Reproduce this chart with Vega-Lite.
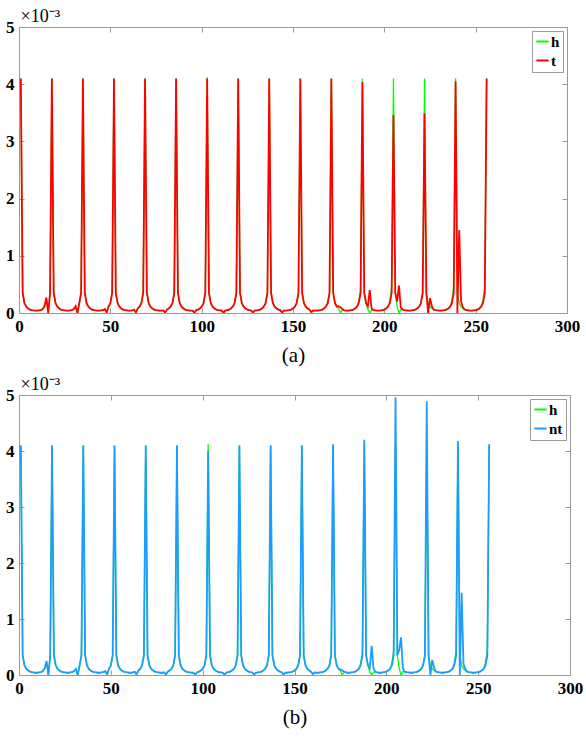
{
  "$schema": "https://vega.github.io/schema/vega-lite/v6.json",
  "background": "white",
  "padding": {"left": 5, "top": 6, "right": 4, "bottom": 4},
  "datasets": {
    "signal": [
      {"x": 1, "h": 4.1, "t": 4.1, "nt": 4.1},
      {"x": 2, "h": 0.35, "t": 0.35, "nt": 0.35},
      {"x": 3, "h": 0.17, "t": 0.17, "nt": 0.17},
      {"x": 4, "h": 0.11, "t": 0.11, "nt": 0.11},
      {"x": 5, "h": 0.08, "t": 0.08, "nt": 0.08},
      {"x": 6, "h": 0.06, "t": 0.06, "nt": 0.06},
      {"x": 7, "h": 0.05, "t": 0.05, "nt": 0.05},
      {"x": 8, "h": 0.045, "t": 0.045, "nt": 0.045},
      {"x": 9, "h": 0.04, "t": 0.04, "nt": 0.04},
      {"x": 10, "h": 0.04, "t": 0.04, "nt": 0.04},
      {"x": 11, "h": 0.045, "t": 0.045, "nt": 0.045},
      {"x": 12, "h": 0.05, "t": 0.05, "nt": 0.05},
      {"x": 13, "h": 0.07, "t": 0.07, "nt": 0.07},
      {"x": 14, "h": 0.12, "t": 0.12, "nt": 0.12},
      {"x": 15, "h": 0.24, "t": 0.27, "nt": 0.25},
      {"x": 16, "h": 0.0, "t": 0.0, "nt": 0.0},
      {"x": 17, "h": 0.35, "t": 0.35, "nt": 0.35},
      {"x": 18, "h": 4.1, "t": 4.1, "nt": 4.1},
      {"x": 19, "h": 0.35, "t": 0.35, "nt": 0.35},
      {"x": 20, "h": 0.17, "t": 0.17, "nt": 0.17},
      {"x": 21, "h": 0.11, "t": 0.11, "nt": 0.11},
      {"x": 22, "h": 0.08, "t": 0.08, "nt": 0.08},
      {"x": 23, "h": 0.06, "t": 0.06, "nt": 0.06},
      {"x": 24, "h": 0.05, "t": 0.05, "nt": 0.05},
      {"x": 25, "h": 0.045, "t": 0.045, "nt": 0.045},
      {"x": 26, "h": 0.04, "t": 0.04, "nt": 0.04},
      {"x": 27, "h": 0.04, "t": 0.04, "nt": 0.04},
      {"x": 28, "h": 0.045, "t": 0.045, "nt": 0.045},
      {"x": 29, "h": 0.05, "t": 0.05, "nt": 0.05},
      {"x": 30, "h": 0.07, "t": 0.07, "nt": 0.07},
      {"x": 31, "h": 0.1, "t": 0.12, "nt": 0.11},
      {"x": 32, "h": 0.0, "t": 0.0, "nt": 0.0},
      {"x": 33, "h": 0.17, "t": 0.17, "nt": 0.17},
      {"x": 34, "h": 0.35, "t": 0.35, "nt": 0.35},
      {"x": 35, "h": 4.1, "t": 4.1, "nt": 4.1},
      {"x": 36, "h": 0.35, "t": 0.35, "nt": 0.35},
      {"x": 37, "h": 0.17, "t": 0.17, "nt": 0.17},
      {"x": 38, "h": 0.11, "t": 0.11, "nt": 0.11},
      {"x": 39, "h": 0.08, "t": 0.08, "nt": 0.08},
      {"x": 40, "h": 0.06, "t": 0.06, "nt": 0.06},
      {"x": 41, "h": 0.05, "t": 0.05, "nt": 0.05},
      {"x": 42, "h": 0.045, "t": 0.045, "nt": 0.045},
      {"x": 43, "h": 0.04, "t": 0.04, "nt": 0.04},
      {"x": 44, "h": 0.04, "t": 0.04, "nt": 0.04},
      {"x": 45, "h": 0.045, "t": 0.045, "nt": 0.045},
      {"x": 46, "h": 0.05, "t": 0.05, "nt": 0.05},
      {"x": 47, "h": 0.07, "t": 0.07, "nt": 0.07},
      {"x": 48, "h": 0.01, "t": 0.01, "nt": 0.01},
      {"x": 49, "h": 0.11, "t": 0.11, "nt": 0.11},
      {"x": 50, "h": 0.17, "t": 0.17, "nt": 0.17},
      {"x": 51, "h": 0.35, "t": 0.35, "nt": 0.35},
      {"x": 52, "h": 4.1, "t": 4.1, "nt": 4.1},
      {"x": 53, "h": 0.35, "t": 0.35, "nt": 0.35},
      {"x": 54, "h": 0.17, "t": 0.17, "nt": 0.17},
      {"x": 55, "h": 0.11, "t": 0.11, "nt": 0.11},
      {"x": 56, "h": 0.08, "t": 0.08, "nt": 0.08},
      {"x": 57, "h": 0.06, "t": 0.06, "nt": 0.06},
      {"x": 58, "h": 0.05, "t": 0.05, "nt": 0.05},
      {"x": 59, "h": 0.045, "t": 0.045, "nt": 0.045},
      {"x": 60, "h": 0.04, "t": 0.04, "nt": 0.04},
      {"x": 61, "h": 0.04, "t": 0.04, "nt": 0.04},
      {"x": 62, "h": 0.045, "t": 0.045, "nt": 0.045},
      {"x": 63, "h": 0.055, "t": 0.055, "nt": 0.055},
      {"x": 64, "h": 0.01, "t": 0.01, "nt": 0.01},
      {"x": 65, "h": 0.08, "t": 0.08, "nt": 0.08},
      {"x": 66, "h": 0.11, "t": 0.11, "nt": 0.11},
      {"x": 67, "h": 0.17, "t": 0.17, "nt": 0.17},
      {"x": 68, "h": 0.35, "t": 0.35, "nt": 0.35},
      {"x": 69, "h": 4.1, "t": 4.1, "nt": 4.1},
      {"x": 70, "h": 0.35, "t": 0.35, "nt": 0.35},
      {"x": 71, "h": 0.17, "t": 0.17, "nt": 0.17},
      {"x": 72, "h": 0.11, "t": 0.11, "nt": 0.11},
      {"x": 73, "h": 0.08, "t": 0.08, "nt": 0.08},
      {"x": 74, "h": 0.06, "t": 0.06, "nt": 0.06},
      {"x": 75, "h": 0.05, "t": 0.05, "nt": 0.05},
      {"x": 76, "h": 0.045, "t": 0.045, "nt": 0.045},
      {"x": 77, "h": 0.04, "t": 0.04, "nt": 0.04},
      {"x": 78, "h": 0.04, "t": 0.04, "nt": 0.04},
      {"x": 79, "h": 0.045, "t": 0.045, "nt": 0.045},
      {"x": 80, "h": 0.01, "t": 0.01, "nt": 0.01},
      {"x": 81, "h": 0.06, "t": 0.06, "nt": 0.06},
      {"x": 82, "h": 0.08, "t": 0.08, "nt": 0.08},
      {"x": 83, "h": 0.11, "t": 0.11, "nt": 0.11},
      {"x": 84, "h": 0.17, "t": 0.17, "nt": 0.17},
      {"x": 85, "h": 0.35, "t": 0.35, "nt": 0.35},
      {"x": 86, "h": 4.1, "t": 4.1, "nt": 4.1},
      {"x": 87, "h": 0.35, "t": 0.35, "nt": 0.35},
      {"x": 88, "h": 0.17, "t": 0.17, "nt": 0.17},
      {"x": 89, "h": 0.11, "t": 0.11, "nt": 0.11},
      {"x": 90, "h": 0.08, "t": 0.08, "nt": 0.08},
      {"x": 91, "h": 0.06, "t": 0.06, "nt": 0.06},
      {"x": 92, "h": 0.05, "t": 0.05, "nt": 0.05},
      {"x": 93, "h": 0.045, "t": 0.045, "nt": 0.045},
      {"x": 94, "h": 0.04, "t": 0.04, "nt": 0.04},
      {"x": 95, "h": 0.04, "t": 0.04, "nt": 0.04},
      {"x": 96, "h": 0.005, "t": 0.005, "nt": 0.005},
      {"x": 97, "h": 0.05, "t": 0.05, "nt": 0.05},
      {"x": 98, "h": 0.06, "t": 0.06, "nt": 0.06},
      {"x": 99, "h": 0.08, "t": 0.08, "nt": 0.08},
      {"x": 100, "h": 0.11, "t": 0.11, "nt": 0.11},
      {"x": 101, "h": 0.17, "t": 0.17, "nt": 0.17},
      {"x": 102, "h": 0.35, "t": 0.35, "nt": 0.35},
      {"x": 103, "h": 4.12, "t": 4.1, "nt": 4.0},
      {"x": 104, "h": 0.35, "t": 0.35, "nt": 0.35},
      {"x": 105, "h": 0.17, "t": 0.17, "nt": 0.17},
      {"x": 106, "h": 0.11, "t": 0.11, "nt": 0.11},
      {"x": 107, "h": 0.08, "t": 0.08, "nt": 0.08},
      {"x": 108, "h": 0.06, "t": 0.06, "nt": 0.06},
      {"x": 109, "h": 0.05, "t": 0.05, "nt": 0.05},
      {"x": 110, "h": 0.045, "t": 0.045, "nt": 0.045},
      {"x": 111, "h": 0.04, "t": 0.04, "nt": 0.04},
      {"x": 112, "h": 0.005, "t": 0.005, "nt": 0.005},
      {"x": 113, "h": 0.045, "t": 0.045, "nt": 0.045},
      {"x": 114, "h": 0.05, "t": 0.05, "nt": 0.05},
      {"x": 115, "h": 0.06, "t": 0.06, "nt": 0.06},
      {"x": 116, "h": 0.08, "t": 0.08, "nt": 0.08},
      {"x": 117, "h": 0.11, "t": 0.11, "nt": 0.11},
      {"x": 118, "h": 0.17, "t": 0.17, "nt": 0.17},
      {"x": 119, "h": 0.35, "t": 0.35, "nt": 0.35},
      {"x": 120, "h": 4.1, "t": 4.1, "nt": 4.1},
      {"x": 121, "h": 0.35, "t": 0.35, "nt": 0.35},
      {"x": 122, "h": 0.17, "t": 0.17, "nt": 0.17},
      {"x": 123, "h": 0.11, "t": 0.11, "nt": 0.11},
      {"x": 124, "h": 0.08, "t": 0.08, "nt": 0.08},
      {"x": 125, "h": 0.06, "t": 0.06, "nt": 0.06},
      {"x": 126, "h": 0.05, "t": 0.05, "nt": 0.05},
      {"x": 127, "h": 0.045, "t": 0.045, "nt": 0.045},
      {"x": 128, "h": 0.01, "t": 0.01, "nt": 0.01},
      {"x": 129, "h": 0.04, "t": 0.04, "nt": 0.04},
      {"x": 130, "h": 0.045, "t": 0.045, "nt": 0.045},
      {"x": 131, "h": 0.05, "t": 0.05, "nt": 0.05},
      {"x": 132, "h": 0.06, "t": 0.06, "nt": 0.06},
      {"x": 133, "h": 0.08, "t": 0.08, "nt": 0.08},
      {"x": 134, "h": 0.11, "t": 0.11, "nt": 0.11},
      {"x": 135, "h": 0.17, "t": 0.17, "nt": 0.17},
      {"x": 136, "h": 0.35, "t": 0.35, "nt": 0.35},
      {"x": 137, "h": 4.1, "t": 4.1, "nt": 4.1},
      {"x": 138, "h": 0.35, "t": 0.35, "nt": 0.35},
      {"x": 139, "h": 0.17, "t": 0.17, "nt": 0.17},
      {"x": 140, "h": 0.11, "t": 0.11, "nt": 0.11},
      {"x": 141, "h": 0.08, "t": 0.08, "nt": 0.08},
      {"x": 142, "h": 0.06, "t": 0.06, "nt": 0.06},
      {"x": 143, "h": 0.05, "t": 0.05, "nt": 0.05},
      {"x": 144, "h": 0.01, "t": 0.01, "nt": 0.01},
      {"x": 145, "h": 0.04, "t": 0.04, "nt": 0.04},
      {"x": 146, "h": 0.04, "t": 0.04, "nt": 0.04},
      {"x": 147, "h": 0.045, "t": 0.045, "nt": 0.045},
      {"x": 148, "h": 0.05, "t": 0.05, "nt": 0.05},
      {"x": 149, "h": 0.06, "t": 0.06, "nt": 0.06},
      {"x": 150, "h": 0.08, "t": 0.08, "nt": 0.08},
      {"x": 151, "h": 0.11, "t": 0.11, "nt": 0.11},
      {"x": 152, "h": 0.17, "t": 0.17, "nt": 0.17},
      {"x": 153, "h": 0.35, "t": 0.35, "nt": 0.35},
      {"x": 154, "h": 4.1, "t": 4.1, "nt": 4.1},
      {"x": 155, "h": 0.35, "t": 0.35, "nt": 0.35},
      {"x": 156, "h": 0.17, "t": 0.17, "nt": 0.17},
      {"x": 157, "h": 0.11, "t": 0.11, "nt": 0.11},
      {"x": 158, "h": 0.08, "t": 0.08, "nt": 0.08},
      {"x": 159, "h": 0.06, "t": 0.06, "nt": 0.06},
      {"x": 160, "h": 0.015, "t": 0.015, "nt": 0.015},
      {"x": 161, "h": 0.045, "t": 0.045, "nt": 0.045},
      {"x": 162, "h": 0.04, "t": 0.04, "nt": 0.04},
      {"x": 163, "h": 0.04, "t": 0.04, "nt": 0.04},
      {"x": 164, "h": 0.045, "t": 0.045, "nt": 0.045},
      {"x": 165, "h": 0.05, "t": 0.05, "nt": 0.05},
      {"x": 166, "h": 0.06, "t": 0.06, "nt": 0.06},
      {"x": 167, "h": 0.08, "t": 0.08, "nt": 0.08},
      {"x": 168, "h": 0.11, "t": 0.11, "nt": 0.11},
      {"x": 169, "h": 0.17, "t": 0.17, "nt": 0.17},
      {"x": 170, "h": 0.35, "t": 0.35, "nt": 0.35},
      {"x": 171, "h": 4.1, "t": 4.1, "nt": 4.12},
      {"x": 172, "h": 0.35, "t": 0.35, "nt": 0.35},
      {"x": 173, "h": 0.17, "t": 0.17, "nt": 0.17},
      {"x": 174, "h": 0.11, "t": 0.11, "nt": 0.11},
      {"x": 175, "h": 0.08, "t": 0.12, "nt": 0.1},
      {"x": 176, "h": 0.0, "t": 0.1, "nt": 0.08},
      {"x": 177, "h": 0.05, "t": 0.07, "nt": 0.06},
      {"x": 178, "h": 0.045, "t": 0.045, "nt": 0.045},
      {"x": 179, "h": 0.04, "t": 0.04, "nt": 0.04},
      {"x": 180, "h": 0.04, "t": 0.04, "nt": 0.04},
      {"x": 181, "h": 0.045, "t": 0.045, "nt": 0.045},
      {"x": 182, "h": 0.05, "t": 0.05, "nt": 0.05},
      {"x": 183, "h": 0.06, "t": 0.06, "nt": 0.06},
      {"x": 184, "h": 0.08, "t": 0.08, "nt": 0.08},
      {"x": 185, "h": 0.11, "t": 0.11, "nt": 0.11},
      {"x": 186, "h": 0.2, "t": 0.17, "nt": 0.17},
      {"x": 187, "h": 0.4, "t": 0.35, "nt": 0.35},
      {"x": 188, "h": 4.1, "t": 4.04, "nt": 4.2},
      {"x": 189, "h": 0.35, "t": 0.35, "nt": 0.35},
      {"x": 190, "h": 0.17, "t": 0.17, "nt": 0.17},
      {"x": 191, "h": 0.06, "t": 0.12, "nt": 0.12},
      {"x": 192, "h": 0.0, "t": 0.4, "nt": 0.52},
      {"x": 193, "h": 0.05, "t": 0.08, "nt": 0.12},
      {"x": 194, "h": 0.05, "t": 0.05, "nt": 0.06},
      {"x": 195, "h": 0.045, "t": 0.045, "nt": 0.045},
      {"x": 196, "h": 0.04, "t": 0.04, "nt": 0.04},
      {"x": 197, "h": 0.04, "t": 0.04, "nt": 0.04},
      {"x": 198, "h": 0.045, "t": 0.045, "nt": 0.045},
      {"x": 199, "h": 0.05, "t": 0.05, "nt": 0.05},
      {"x": 200, "h": 0.06, "t": 0.06, "nt": 0.06},
      {"x": 201, "h": 0.08, "t": 0.08, "nt": 0.08},
      {"x": 202, "h": 0.11, "t": 0.11, "nt": 0.11},
      {"x": 203, "h": 0.2, "t": 0.17, "nt": 0.17},
      {"x": 204, "h": 0.45, "t": 0.35, "nt": 0.35},
      {"x": 205, "h": 4.1, "t": 3.46, "nt": 4.96},
      {"x": 206, "h": 0.35, "t": 0.35, "nt": 0.35},
      {"x": 207, "h": 0.12, "t": 0.2, "nt": 0.45},
      {"x": 208, "h": 0.0, "t": 0.48, "nt": 0.67},
      {"x": 209, "h": 0.06, "t": 0.1, "nt": 0.12},
      {"x": 210, "h": 0.06, "t": 0.06, "nt": 0.06},
      {"x": 211, "h": 0.05, "t": 0.05, "nt": 0.05},
      {"x": 212, "h": 0.045, "t": 0.045, "nt": 0.045},
      {"x": 213, "h": 0.04, "t": 0.04, "nt": 0.04},
      {"x": 214, "h": 0.04, "t": 0.04, "nt": 0.04},
      {"x": 215, "h": 0.045, "t": 0.045, "nt": 0.045},
      {"x": 216, "h": 0.05, "t": 0.05, "nt": 0.05},
      {"x": 217, "h": 0.06, "t": 0.06, "nt": 0.06},
      {"x": 218, "h": 0.08, "t": 0.08, "nt": 0.08},
      {"x": 219, "h": 0.11, "t": 0.11, "nt": 0.11},
      {"x": 220, "h": 0.17, "t": 0.17, "nt": 0.17},
      {"x": 221, "h": 0.35, "t": 0.35, "nt": 0.35},
      {"x": 222, "h": 4.1, "t": 3.49, "nt": 4.89},
      {"x": 223, "h": 0.35, "t": 0.35, "nt": 0.35},
      {"x": 224, "h": 0.17, "t": 0.0, "nt": 0.0},
      {"x": 225, "h": 0.11, "t": 0.26, "nt": 0.27},
      {"x": 226, "h": 0.08, "t": 0.12, "nt": 0.13},
      {"x": 227, "h": 0.06, "t": 0.06, "nt": 0.06},
      {"x": 228, "h": 0.05, "t": 0.05, "nt": 0.05},
      {"x": 229, "h": 0.045, "t": 0.045, "nt": 0.045},
      {"x": 230, "h": 0.04, "t": 0.04, "nt": 0.04},
      {"x": 231, "h": 0.04, "t": 0.04, "nt": 0.04},
      {"x": 232, "h": 0.045, "t": 0.045, "nt": 0.045},
      {"x": 233, "h": 0.05, "t": 0.05, "nt": 0.05},
      {"x": 234, "h": 0.06, "t": 0.06, "nt": 0.06},
      {"x": 235, "h": 0.08, "t": 0.08, "nt": 0.08},
      {"x": 236, "h": 0.11, "t": 0.11, "nt": 0.11},
      {"x": 237, "h": 0.22, "t": 0.17, "nt": 0.17},
      {"x": 238, "h": 0.45, "t": 0.35, "nt": 0.35},
      {"x": 239, "h": 4.1, "t": 4.05, "nt": 4.18},
      {"x": 240, "h": 0.35, "t": 0.0, "nt": 0.0},
      {"x": 241, "h": 0.17, "t": 1.45, "nt": 1.47},
      {"x": 242, "h": 0.11, "t": 0.2, "nt": 0.2},
      {"x": 243, "h": 0.08, "t": 0.1, "nt": 0.1},
      {"x": 244, "h": 0.06, "t": 0.06, "nt": 0.06},
      {"x": 245, "h": 0.05, "t": 0.05, "nt": 0.05},
      {"x": 246, "h": 0.045, "t": 0.045, "nt": 0.045},
      {"x": 247, "h": 0.04, "t": 0.04, "nt": 0.04},
      {"x": 248, "h": 0.04, "t": 0.04, "nt": 0.04},
      {"x": 249, "h": 0.045, "t": 0.045, "nt": 0.045},
      {"x": 250, "h": 0.05, "t": 0.05, "nt": 0.05},
      {"x": 251, "h": 0.06, "t": 0.06, "nt": 0.06},
      {"x": 252, "h": 0.08, "t": 0.08, "nt": 0.08},
      {"x": 253, "h": 0.11, "t": 0.11, "nt": 0.11},
      {"x": 254, "h": 0.22, "t": 0.17, "nt": 0.17},
      {"x": 255, "h": 0.45, "t": 0.35, "nt": 0.35},
      {"x": 256, "h": 4.1, "t": 4.1, "nt": 4.12}
    ]
  },
  "spacing": 8,
  "vconcat": [
    {
      "data": {"name": "signal"},
      "width": 548,
      "height": 286,
      "layer": [
        {
          "mark": {"type": "line", "clip": true, "strokeWidth": 1.3},
          "encoding": {
            "x": {
              "field": "x", "type": "quantitative",
              "scale": {"domain": [0, 300], "nice": false},
              "axis": {"values": [0, 50, 100, 150, 200, 250, 300], "title": "(a)", "titleFontSize": 21, "titlePadding": 10}
            },
            "y": {
              "field": "h", "type": "quantitative",
              "scale": {"domain": [0, 5], "nice": false},
              "axis": {"values": [0, 1, 2, 3, 4, 5], "title": "×10⁻³", "titleAngle": 0, "titleAlign": "left", "titleBaseline": "alphabetic", "titleX": 1, "titleY": -6, "titleFontSize": 18}
            },
            "color": {
              "datum": "h", "type": "nominal",
              "scale": {"domain": ["h", "t"], "range": ["#00ff00", "#ff0000"]},
              "legend": {"orient": "top-right"}
            }
          }
        },
        {
          "mark": {"type": "line", "clip": true, "strokeWidth": 1.8},
          "encoding": {
            "x": {
              "field": "x", "type": "quantitative",
              "axis": {"orient": "top", "values": [0, 50, 100, 150, 200, 250, 300], "labels": false, "title": null}
            },
            "y": {
              "field": "t", "type": "quantitative",
              "axis": {"orient": "right", "values": [0, 1, 2, 3, 4, 5], "labels": false, "title": null}
            },
            "color": {"datum": "t", "type": "nominal"}
          }
        }
      ],
      "resolve": {"axis": {"x": "independent", "y": "independent"}}
    },
    {
      "data": {"name": "signal"},
      "width": 551,
      "height": 280,
      "layer": [
        {
          "mark": {"type": "line", "clip": true, "strokeWidth": 1.3},
          "encoding": {
            "x": {
              "field": "x", "type": "quantitative",
              "scale": {"domain": [0, 300], "nice": false},
              "axis": {"values": [0, 50, 100, 150, 200, 250, 300], "title": "(b)", "titleFontSize": 21, "titlePadding": 10}
            },
            "y": {
              "field": "h", "type": "quantitative",
              "scale": {"domain": [0, 5], "nice": false},
              "axis": {"values": [0, 1, 2, 3, 4, 5], "title": "×10⁻³", "titleAngle": 0, "titleAlign": "left", "titleBaseline": "alphabetic", "titleX": 1, "titleY": -6, "titleFontSize": 18}
            },
            "color": {
              "datum": "h", "type": "nominal",
              "scale": {"domain": ["h", "nt"], "range": ["#00ff00", "#1e9bff"]},
              "legend": {"orient": "top-right"}
            }
          }
        },
        {
          "mark": {"type": "line", "clip": true, "strokeWidth": 1.8},
          "encoding": {
            "x": {
              "field": "x", "type": "quantitative",
              "axis": {"orient": "top", "values": [0, 50, 100, 150, 200, 250, 300], "labels": false, "title": null}
            },
            "y": {
              "field": "nt", "type": "quantitative",
              "axis": {"orient": "right", "values": [0, 1, 2, 3, 4, 5], "labels": false, "title": null}
            },
            "color": {"datum": "nt", "type": "nominal"}
          }
        }
      ],
      "resolve": {"axis": {"x": "independent", "y": "independent"}}
    }
  ],
  "resolve": {"scale": {"color": "independent"}, "legend": {"color": "independent"}},
  "config": {
    "font": "Liberation Serif",
    "view": {"stroke": "#9a9a9a", "strokeWidth": 1},
    "axis": {
      "grid": false,
      "domain": false,
      "tickColor": "#9a9a9a",
      "tickSize": -5,
      "labelPadding": 10,
      "labelFont": "Liberation Serif",
      "labelFontWeight": "bold",
      "labelFontSize": 17,
      "labelColor": "#000000",
      "labelFlush": false,
      "titleFont": "Liberation Serif",
      "titleFontWeight": "normal",
      "titleColor": "#000000"
    },
    "legend": {
      "title": null,
      "offset": 4,
      "padding": 3,
      "strokeColor": "#9a9a9a",
      "fillColor": "#ffffff",
      "cornerRadius": 0,
      "symbolType": "stroke",
      "symbolStrokeWidth": 2,
      "symbolSize": 150,
      "labelOffset": 1,
      "rowPadding": 3,
      "labelFont": "Liberation Serif",
      "labelFontWeight": "bold",
      "labelFontSize": 15,
      "labelColor": "#000000"
    }
  }
}
